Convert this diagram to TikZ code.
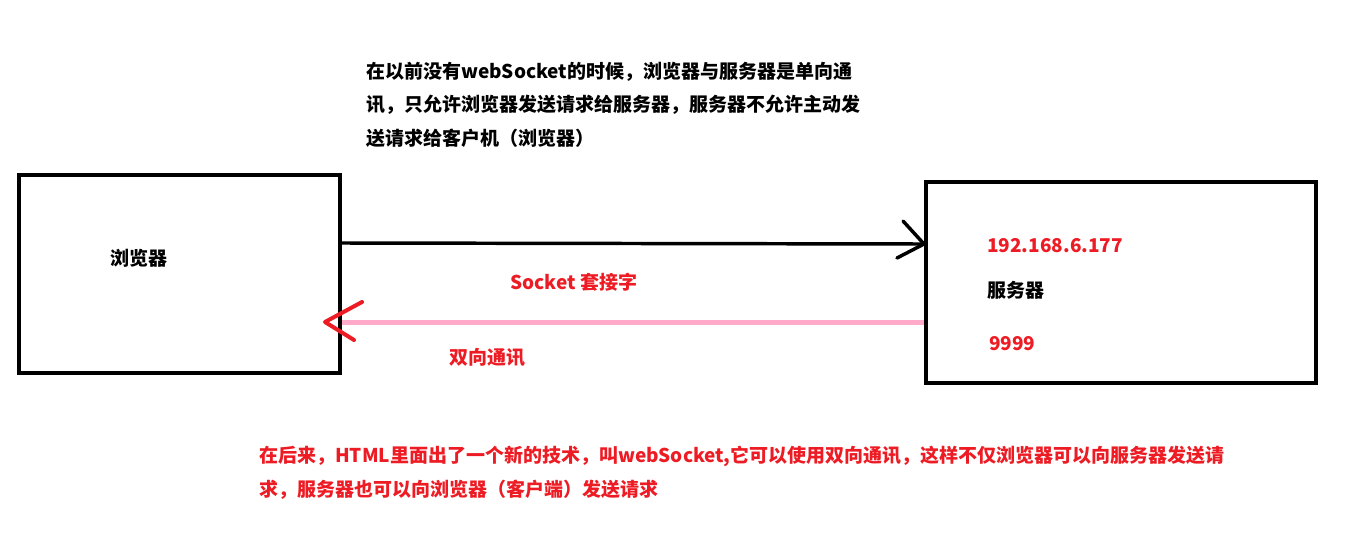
\documentclass[tikz,border=0pt]{standalone}
\usepackage{fontspec}
\setmainfont{Noto Sans CJK SC}
\definecolor{pred}{RGB}{237,28,36}
\definecolor{ppink}{RGB}{255,170,200}
\begin{document}
\begin{tikzpicture}[x=0.75pt,y=-0.75pt,
  box/.style={draw=black,line width=3pt,minimum width=#1},
  txt/.style={anchor=west,inner sep=0pt,font=\fontsize{14.25pt}{18pt}\selectfont\bfseries},
  redtxt/.style={txt,text=pred},
  blackarrow/.style={draw=black,line width=2.6pt,line cap=round,line join=round},
  pinkline/.style={draw=ppink,line width=3.75pt},
  redhead/.style={draw=pred,line width=3pt,line cap=round,line join=round}]
\useasboundingbox (0,0) rectangle (1351,542);
% boxes
\node[box=240.75pt,minimum height=148.5pt] (L) at (179.5,274) {};
\node[box=292.5pt,minimum height=150.75pt] (R) at (1121,282.5) {};
% texts
\node[txt] (t1) at (366,72) {在以前没有webSocket的时候，浏览器与服务器是单向通};
\node[txt] (t2) at (366,105) {讯，只允许浏览器发送请求给服务器，服务器不允许主动发};
\node[txt] (t3) at (366,138) {送请求给客户机（浏览器）};
\node[txt] (lb) at (110,258) {浏览器};
\node[redtxt] (sock) at (510,282) {Socket 套接字};
\node[redtxt] (sx) at (449,357) {双向通讯};
\node[redtxt] (ip) at (987,246) {192.168.6.177};
\node[txt] (rb) at (987,290) {服务器};
\node[redtxt] (port) at (989,344) {9999};
\node[redtxt] (b1) at (259,456) {在后来，HTML里面出了一个新的技术，叫webSocket,它可以使用双向通讯，这样不仅浏览器可以向服务器发送请};
\node[redtxt] (b2) at (259,490) {求，服务器也可以向浏览器（客户端）发送请求};
% arrows
\coordinate (aS) at (L.east |- 0,243);
\coordinate (aE) at (924,244);
\draw[blackarrow] (aS) -- (aE);
\draw[blackarrow] (903,221) -- (aE) -- (897,258);
\coordinate (pS) at (R.west |- 0,322);
\coordinate (pE) at (342,322);
\draw[pinkline] (pS) -- (pE);
\coordinate (hT) at (325,322);
\draw[redhead] (362,302) -- (hT) -- (354,340);
\end{tikzpicture}
\end{document}
